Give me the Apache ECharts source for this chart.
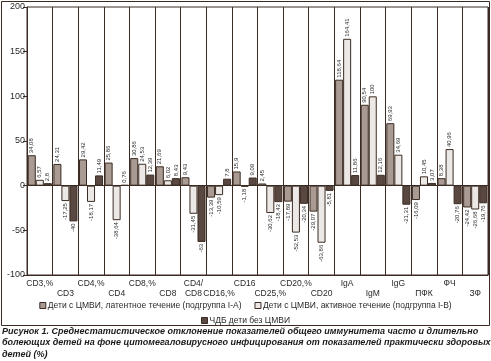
<!DOCTYPE html>
<html><head><meta charset="utf-8">
<script src="https://cdn.jsdelivr.net/npm/echarts@6/dist/echarts.min.js"></script>
<style>html,body{margin:0;padding:0;background:#fff}#c{width:491px;height:361px}</style>
</head><body><div id="c"></div>
<script>
const categories = ['CD3,%','CD3','CD4,%','CD4','CD8,%','CD8','CD4/CD8','CD16,%','CD16','CD25,%','CD20,%','CD20','IgA','IgM','IgG','ПФК','ФЧ','ЗФ'];
const seriesNames = ['Дети с ЦМВИ, латентное течение (подгруппа I-А)','Дети с ЦМВИ, активное течение (подгруппа I-В)','ЧДБ дети без ЦМВИ'];
const latent  = [34.08, 24.31, 29.42, 25.86, 30.86, 21.69, 9.43, -13.39, 15.9, 2.45, -17.89, -29.07, 118.64, 90.54, 69.93, -16.09, 8.38, -24.42];
const active  = [6.57, -17.25, -18.17, -38.64, 24.53, 6.02, -31.45, -10.59, -1.18, -30.62, -52.53, -63.86, 164.41, 100, 34.69, 10.45, 40.96, -26.68];
const healthy = [2.8, -40, 11.49, 0.76, 12.39, 8.43, -63, 7.8, 9.09, -18.43, -20.34, -5.81, 11.86, 12.16, -21.31, 3.07, -20.76, -19.76];
const yTicks = {min: -100, max: 200, interval: 50};
const captionLines = [
  'Рисунок 1. Среднестатистическое отклонение показателей общего иммунитета часто и длительно',
  'болеющих детей на фоне цитомегаловирусного инфицирования от показателей практически здоровых',
  'детей (%)'
];

const dark = '#3b2b22';
const fills = ['#a99b93', '#ece8e5', '#594841'];
const txt = '#2a2a2a';
const FONT = '"Liberation Sans", Arial, sans-serif';

function mkData(arr) {
  return arr.map(v => ({
    value: v,
    label: {position: v < 0 ? 'bottom' : 'top', align: v < 0 ? 'right' : 'left'}
  }));
}
function mkSeries(name, arr, i) {
  const s = {
    name: name, type: 'bar', data: mkData(arr),
    barGap: '0%', barCategoryGap: '6%',
    itemStyle: {color: fills[i], borderColor: dark, borderWidth: 1},
    label: {
      show: true, rotate: 90, verticalAlign: 'middle', distance: 2,
      fontSize: 6, fontFamily: FONT, color: txt,
      formatter: p => String(p.value).replace('.', ',')
    },
    emphasis: {disabled: true}
  };
  if (i === 0) {
    s.markLine = {silent: true, symbol: 'none', label: {show: false},
      lineStyle: {color: dark, width: 1, type: 'solid'}, data: [{yAxis: 0}]};
  }
  return s;
}

const legendCommon = {
  left: 'center', itemGap: 13, itemWidth: 6, itemHeight: 6, padding: 0, icon: 'rect',
  itemStyle: {borderColor: dark, borderWidth: 1},
  textStyle: {fontSize: 8.5, fontFamily: FONT, color: txt, padding: [0, 0, 0, -3]}
};

const chart = echarts.init(document.getElementById('c'), null, {renderer: 'canvas'});
chart.setOption({
  animation: false,
  backgroundColor: '#fff',
  grid: {left: 27, right: 3, top: 7, bottom: 86, show: true, borderColor: dark, borderWidth: 1, backgroundColor: 'transparent'},
  xAxis: {
    type: 'category', data: categories,
    axisLine: {onZero: false, lineStyle: {color: dark, width: 1}},
    axisTick: {show: false},
    splitLine: {show: true, interval: 0, lineStyle: {color: dark, width: 1}},
    axisLabel: {
      interval: 0, margin: 4, fontSize: 8.5, lineHeight: 9.5, fontFamily: FONT, color: txt,
      formatter: (v, i) => { const t = v.replace('/', '/\n'); return i % 2 ? '\n' + t : t; }
    }
  },
  yAxis: {
    type: 'value', min: yTicks.min, max: yTicks.max, interval: yTicks.interval,
    axisLine: {show: true, lineStyle: {color: dark, width: 1}},
    axisTick: {show: true, length: 4, lineStyle: {color: dark}},
    splitLine: {show: false},
    axisLabel: {margin: 2, fontSize: 9, fontFamily: FONT, color: txt}
  },
  legend: [
    Object.assign({data: seriesNames.slice(0, 2), top: 301}, legendCommon),
    Object.assign({data: seriesNames.slice(2), top: 316}, legendCommon)
  ],
  series: [mkSeries(seriesNames[0], latent, 0), mkSeries(seriesNames[1], active, 1), mkSeries(seriesNames[2], healthy, 2)],
  graphic: [
    {type: 'rect', shape: {x: 1.5, y: 1.5, width: 488, height: 324}, style: {fill: 'none', stroke: dark, lineWidth: 1}, silent: true},
    ...captionLines.map((t, i) => ({type: 'text', left: 2, top: 327 + i * 11.5,
      style: {text: t, font: 'italic bold 9px ' + FONT, fill: '#1a1a1a'}, silent: true}))
  ]
});
</script></body></html>
